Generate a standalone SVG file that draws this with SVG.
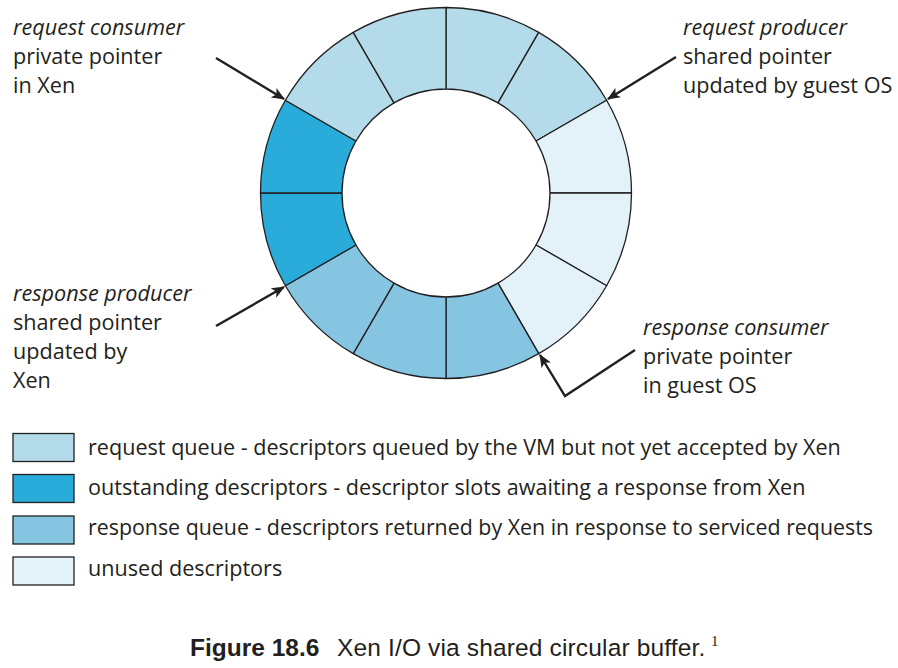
<svg xmlns="http://www.w3.org/2000/svg" width="898" height="668" viewBox="0 0 898 668">
<defs>
<style>
.seg{stroke:#231f20;stroke-width:1.3;stroke-linejoin:round}
.req{fill:#b4dbea}.out{fill:#29acd9}.rsp{fill:#86c5e2}.unu{fill:#e3f1f8}
.lbl{font-family:"Open Sans","DejaVu Sans",sans-serif;font-size:21.6px;fill:#231f20}
.it{font-style:italic}
.leg{font-family:"Open Sans","DejaVu Sans",sans-serif;font-size:21.6px;fill:#231f20}
.box{stroke:#231f20;stroke-width:1.3}
.arr{fill:none;stroke:#231f20;stroke-width:2.4;marker-end:url(#ah)}
.cap{font-family:"Liberation Sans",Arial,sans-serif;font-size:24.5px;fill:#231f20}
</style>
<marker id="ah" viewBox="0 0 12 10" refX="11" refY="5" markerWidth="5.5" markerHeight="4.6" orient="auto" markerUnits="strokeWidth">
<path d="M0,0 L12,5 L0,10 L3,5 Z" fill="#231f20"/>
</marker>
</defs>
<rect width="898" height="668" fill="#ffffff"/>
<g id="ring">
<path class="seg req" d="M446,7.5 A185.5,185.5 0 0 1 538.75,32.35 L498,102.93 A104,104 0 0 0 446,89 Z"/>
<path class="seg req" d="M538.75,32.35 A185.5,185.5 0 0 1 606.65,100.25 L536.07,141 A104,104 0 0 0 498,102.93 Z"/>
<path class="seg unu" d="M606.65,100.25 A185.5,185.5 0 0 1 631.5,193 L550,193 A104,104 0 0 0 536.07,141 Z"/>
<path class="seg unu" d="M631.5,193 A185.5,185.5 0 0 1 606.65,285.75 L536.07,245 A104,104 0 0 0 550,193 Z"/>
<path class="seg unu" d="M606.65,285.75 A185.5,185.5 0 0 1 538.75,353.65 L498,283.07 A104,104 0 0 0 536.07,245 Z"/>
<path class="seg rsp" d="M538.75,353.65 A185.5,185.5 0 0 1 446,378.5 L446,297 A104,104 0 0 0 498,283.07 Z"/>
<path class="seg rsp" d="M446,378.5 A185.5,185.5 0 0 1 353.25,353.65 L394,283.07 A104,104 0 0 0 446,297 Z"/>
<path class="seg rsp" d="M353.25,353.65 A185.5,185.5 0 0 1 285.35,285.75 L355.93,245 A104,104 0 0 0 394,283.07 Z"/>
<path class="seg out" d="M285.35,285.75 A185.5,185.5 0 0 1 260.5,193 L342,193 A104,104 0 0 0 355.93,245 Z"/>
<path class="seg out" d="M260.5,193 A185.5,185.5 0 0 1 285.35,100.25 L355.93,141 A104,104 0 0 0 342,193 Z"/>
<path class="seg req" d="M285.35,100.25 A185.5,185.5 0 0 1 353.25,32.35 L394,102.93 A104,104 0 0 0 355.93,141 Z"/>
<path class="seg req" d="M353.25,32.35 A185.5,185.5 0 0 1 446,7.5 L446,89 A104,104 0 0 0 394,102.93 Z"/>
</g>
<g id="connectors">
<path class="arr" d="M216,58 L284,99"/>
<path class="arr" d="M676,57 L608,99"/>
<path class="arr" d="M216,326 L284,287"/>
<path class="arr" d="M635,350 L565,396 L540,355"/>
</g>
<g id="label-request-consumer">
<text class="lbl it" x="13" y="35">request consumer</text>
<text class="lbl" x="13" y="64">private pointer</text>
<text class="lbl" x="13" y="93">in Xen</text>
</g>
<g id="label-request-producer">
<text class="lbl it" x="683" y="35">request producer</text>
<text class="lbl" x="683" y="64">shared pointer</text>
<text class="lbl" x="683" y="93">updated by guest OS</text>
</g>
<g id="label-response-producer">
<text class="lbl it" x="13" y="301">response producer</text>
<text class="lbl" x="13" y="330">shared pointer</text>
<text class="lbl" x="13" y="359">updated by</text>
<text class="lbl" x="13" y="388">Xen</text>
</g>
<g id="label-response-consumer">
<text class="lbl it" x="643" y="335">response consumer</text>
<text class="lbl" x="643" y="364">private pointer</text>
<text class="lbl" x="643" y="393">in guest OS</text>
</g>
<g id="legend">
<rect class="box req" x="13" y="433.5" width="61" height="28"/>
<text class="leg" x="88" y="455">request queue - descriptors queued by the VM but not yet accepted by Xen</text>
<rect class="box out" x="13" y="474.5" width="61" height="28"/>
<text class="leg" x="88" y="495">outstanding descriptors - descriptor slots awaiting a response from Xen</text>
<rect class="box rsp" x="13" y="516" width="61" height="28"/>
<text class="leg" x="88" y="535" textLength="785" lengthAdjust="spacingAndGlyphs">response queue - descriptors returned by Xen in response to serviced requests</text>
<rect class="box unu" x="13" y="557" width="61" height="28"/>
<text class="leg" x="88" y="576">unused descriptors</text>
</g>
<g id="caption">
<text class="cap" x="190" y="656" font-weight="bold">Figure 18.6</text>
<text class="cap" x="337" y="656" letter-spacing="0.15">Xen I/O via shared circular buffer.</text>
<text x="711" y="646" font-family="Liberation Serif,serif" font-size="15" fill="#231f20">1</text>
</g>
</svg>
